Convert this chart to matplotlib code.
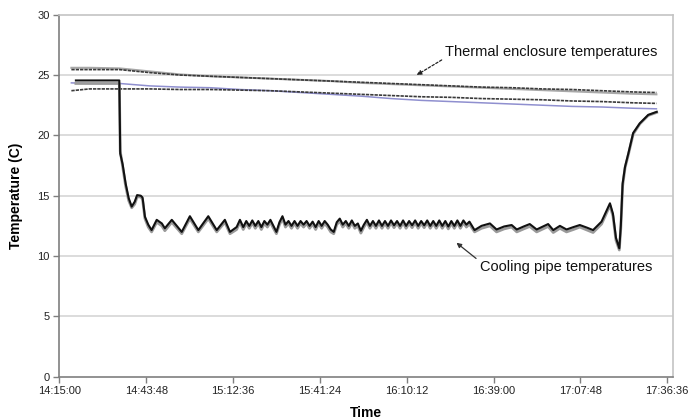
import matplotlib
matplotlib.use("Agg")
import matplotlib.pyplot as plt
from matplotlib import font_manager

# ---- data (time in minutes after 14:15:00, temperature in C) ----
tick_minutes = [0, 28.8, 57.6, 86.4, 115.2, 144.0, 172.8, 201.6]
tick_labels = ["14:15:00", "14:43:48", "15:12:36", "15:41:24",
               "16:10:12", "16:39:00", "17:07:48", "17:36:36"]

t_encl = [4, 10, 20, 30, 40, 50, 60, 70, 80, 90, 100, 110, 120, 130, 140,
          150, 160, 170, 180, 190, 198]
encl_upper_a = [25.45, 25.45, 25.45, 25.2, 25.0, 24.9, 24.8, 24.7, 24.6, 24.5,
                24.4, 24.3, 24.2, 24.1, 24.0, 23.95, 23.85, 23.8, 23.7, 23.6, 23.55]
encl_upper_b = [25.6, 25.6, 25.55, 25.3, 25.05, 24.9, 24.8, 24.7, 24.6, 24.5,
                24.35, 24.25, 24.15, 24.05, 23.95, 23.85, 23.75, 23.65, 23.55,
                23.45, 23.4]
encl_middle = [23.7, 23.85, 23.85, 23.85, 23.8, 23.8, 23.75, 23.7, 23.6, 23.5,
               23.4, 23.3, 23.2, 23.15, 23.05, 23.0, 22.95, 22.85, 22.8, 22.7,
               22.65]
encl_blue = [24.35, 24.3, 24.3, 24.1, 24.0, 23.95, 23.8, 23.7, 23.55, 23.4,
             23.25, 23.05, 22.9, 22.8, 22.7, 22.6, 22.5, 22.4, 22.35, 22.25, 22.2]

t_cool = [5.5, 19.9, 20.2, 21.0, 22.0, 23.0, 24.0, 25.0, 25.8, 27.0, 27.6, 28.4,
          29.5, 30.6, 32.3, 34.0, 35.0, 37.3, 40.6, 43.3, 46.1, 49.4, 52.2, 54.9,
          56.6, 58.8, 59.9,
          61, 62, 63, 64, 65, 66, 67, 68, 69, 70, 71, 72, 73, 74, 75, 76, 77, 78,
          79, 80, 81, 82, 83, 84, 85, 86, 87, 88, 89, 90, 91, 92, 93, 94, 95, 96,
          97, 98, 99, 100, 101, 102, 103, 104, 105, 106, 107, 108, 109, 110, 111,
          112, 113, 114, 115, 116, 117, 118, 119, 120, 121, 122, 123, 124, 125,
          126, 127, 128, 129, 130, 131, 132, 133, 134, 135, 136,
          137.7, 140.0, 142.8, 145.0, 147.5, 150.0, 151.7, 154.0, 156.0, 158.3,
          160.0, 162.1, 163.8, 166.0, 168.2, 170.5, 172.6, 175.0, 177.0, 179.8,
          181.0, 182.6, 183.6, 184.6, 185.7, 186.2, 186.8, 187.6, 188.7, 190.3,
          192.5, 195.3, 198.1]
cool_a = [24.55, 24.55, 18.5, 17.6, 16.0, 14.8, 14.1, 14.5, 15.05, 15.0, 14.85,
          13.25, 12.6, 12.15, 13.0, 12.7, 12.3, 13.0, 12.0, 13.3, 12.15, 13.3,
          12.15, 13.0, 12.0, 12.4, 13.0,
          12.4, 12.9, 12.5, 12.95, 12.5, 12.9, 12.4, 12.9, 12.6, 13.0, 12.5, 12.0,
          12.8, 13.3, 12.6, 12.9, 12.5, 12.9, 12.5, 12.9, 12.6, 12.9, 12.5, 12.85,
          12.4, 12.9, 12.5, 12.9, 12.6, 12.2, 12.0, 12.8, 13.1, 12.6, 12.9, 12.5,
          12.95, 12.5, 12.7, 12.1, 12.6, 13.0, 12.5, 12.9, 12.5, 12.95, 12.5, 12.9,
          12.5, 12.95, 12.55, 12.9, 12.5, 12.95, 12.5, 12.9, 12.55, 12.95, 12.5,
          12.9, 12.55, 12.95, 12.5, 12.9, 12.5, 12.95, 12.5, 12.9, 12.45, 12.9,
          12.5, 12.95, 12.5, 12.95, 12.6, 12.85,
          12.15, 12.5, 12.7, 12.2, 12.45, 12.57, 12.2, 12.45, 12.65, 12.2, 12.4,
          12.65, 12.15, 12.5, 12.2, 12.4, 12.57, 12.35, 12.15, 12.85, 13.5, 14.37,
          13.5, 11.5, 10.64, 12.5, 16.0, 17.4, 18.5, 20.2, 21.0, 21.7, 21.95]
cool_b = [24.3, 24.3, 18.7, 17.4, 15.8, 14.6, 14.0, 14.3, 14.9, 14.9, 14.7,
          13.1, 12.4, 12.0, 12.8, 12.5, 12.1, 12.8, 11.85, 13.1, 12.0, 13.1,
          12.0, 12.8, 11.85, 12.2, 12.8,
          12.2, 12.7, 12.3, 12.75, 12.3, 12.7, 12.2, 12.7, 12.4, 12.8, 12.3, 11.85,
          12.6, 13.1, 12.4, 12.7, 12.3, 12.7, 12.3, 12.7, 12.4, 12.7, 12.3, 12.65,
          12.2, 12.7, 12.3, 12.7, 12.4, 12.0, 11.85, 12.6, 12.9, 12.4, 12.7, 12.3,
          12.75, 12.3, 12.5, 11.9, 12.4, 12.8, 12.3, 12.7, 12.3, 12.75, 12.3, 12.7,
          12.3, 12.75, 12.35, 12.7, 12.3, 12.75, 12.3, 12.7, 12.35, 12.75, 12.3,
          12.7, 12.35, 12.75, 12.3, 12.7, 12.3, 12.75, 12.3, 12.7, 12.25, 12.7,
          12.3, 12.75, 12.3, 12.75, 12.4, 12.65,
          12.0, 12.3, 12.5, 12.0, 12.25, 12.4, 12.0, 12.25, 12.45, 12.0, 12.2,
          12.45, 11.95, 12.3, 12.0, 12.2, 12.4, 12.15, 11.95, 12.65, 13.3, 14.2,
          13.3, 11.3, 10.5, 12.3, 15.8, 17.3, 18.4, 20.1, 20.95, 21.65, 21.9]

# ---- fonts ----
plt.rcParams["font.family"] = ["Liberation Sans", "DejaVu Sans"]
try:
    font_manager.findfont("Liberation Sans Narrow", fallback_to_default=False)
    note_font = dict(family="Liberation Sans Narrow", fontsize=12.5)
except ValueError:
    note_font = dict(family="Liberation Sans", fontsize=10.5)

# ---- figure ----
fig = plt.figure(figsize=(6.97, 4.20), dpi=100)
ax = fig.add_axes([0.0851, 0.1031, 0.8800, 0.8619])

ax.set_xlim(0, 203.4)
ax.set_ylim(0, 30)
ax.set_yticks([0, 5, 10, 15, 20, 25, 30])
ax.set_xticks(tick_minutes)
ax.set_xticklabels(tick_labels)

for y in [5, 10, 15, 20, 25]:
    ax.axhline(y, color="#d6d6d6", lw=1.2, zorder=0)

# thermal enclosure sensors
ax.plot(t_encl, encl_upper_b, color="#a8a8a8", lw=1.5, zorder=2)
ax.plot(t_encl, encl_upper_a, color="#3a3a3a", lw=1.2, ls=(0, (2, 0.6)), zorder=3)
ax.plot(t_encl, encl_blue, color="#8f8fcf", lw=1.1, zorder=2)
ax.plot(t_encl, encl_middle, color="#3a3a3a", lw=1.2, ls=(0, (2, 0.6)), zorder=3)

# cooling pipe sensors
ax.plot(t_cool, cool_b, color="#9a9a9a", lw=2.0, zorder=4,
        solid_joinstyle="round")
ax.plot(t_cool, cool_a, color="#111111", lw=1.5, zorder=5,
        solid_joinstyle="round")

# annotations
ax.annotate("", xy=(118.5, 25.0), xytext=(126.8, 26.25),
            arrowprops=dict(arrowstyle="-|>", color="#222222", lw=0.9,
                            linestyle=(0, (2, 1.5)), mutation_scale=7,
                            shrinkA=0, shrinkB=0))
ax.text(127.9, 26.9, "Thermal enclosure temperatures", ha="left",
        va="center", color="#111111", **note_font)
ax.annotate("", xy=(131.7, 11.1), xytext=(138.2, 9.8),
            arrowprops=dict(arrowstyle="-|>", color="#333333", lw=0.9,
                            mutation_scale=7, shrinkA=0, shrinkB=0))
ax.text(139.5, 9.1, "Cooling pipe temperatures", ha="left",
        va="center", color="#111111", **note_font)

# axes styling
for side in ["left", "bottom"]:
    ax.spines[side].set_color("#7f7f7f")
    ax.spines[side].set_linewidth(1.2)
for side in ["top", "right"]:
    ax.spines[side].set_color("#c4c4c4")
    ax.spines[side].set_linewidth(1.2)
ax.tick_params(axis="both", direction="out", length=4, width=1,
               color="#7f7f7f", labelsize=8, labelcolor="#222222", pad=3)

ax.set_xlabel("Time", fontsize=10, fontweight="bold", labelpad=7)
ax.set_ylabel("Temperature (C)", fontsize=10, fontweight="bold", labelpad=10)

fig.savefig("out.png", dpi=100)
